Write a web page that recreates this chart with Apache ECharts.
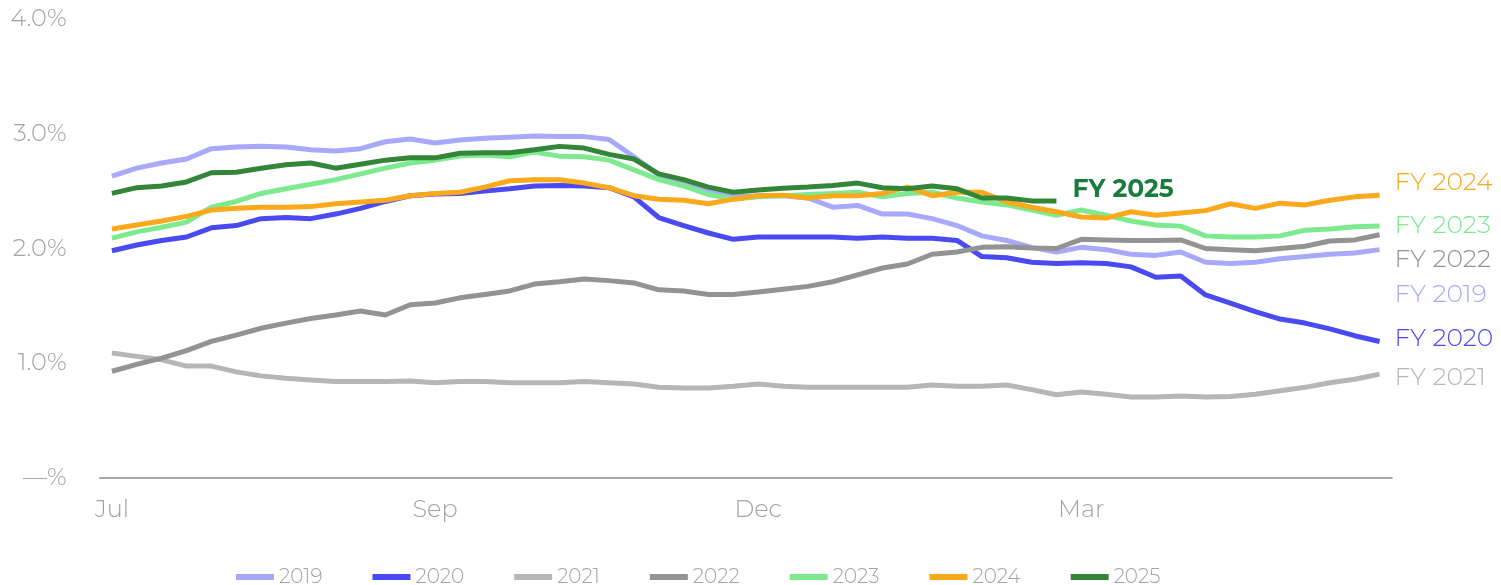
<!DOCTYPE html>
<html>
<head>
<meta charset="utf-8">
<script src="https://cdn.jsdelivr.net/npm/echarts@6/dist/echarts.min.js"></script>
<style>
  html, body { margin: 0; padding: 0; background: #fff; }
  #chart { width: 1501px; height: 585px; }
</style>
</head>
<body>
<div id="chart"></div>
<script>
// week index -> month tick label (52 weekly points, Jul .. Jun)
const tickLabels = { 0: 'Jul', 13: 'Sep', 26: 'Dec', 39: 'Mar' };
const weeks = Array.from({ length: 52 }, (_, i) => tickLabels[i] || ('W' + (i + 1)));

const years = ['2019', '2020', '2021', '2022', '2023', '2024', '2025'];

const fy2019 = [2.63, 2.70, 2.745, 2.78, 2.87, 2.885, 2.89, 2.885, 2.86, 2.85, 2.87, 2.93, 2.955, 2.92, 2.945, 2.96,
  2.97, 2.98, 2.975, 2.975, 2.95, 2.80, 2.64, 2.56, 2.50, 2.45, 2.46, 2.46, 2.44, 2.36, 2.375, 2.30, 2.30, 2.26,
  2.20, 2.11, 2.07, 2.01, 1.97, 2.01, 1.99, 1.95, 1.94, 1.97, 1.88, 1.87, 1.88, 1.91, 1.93, 1.95, 1.96, 1.99];
const fy2020 = [1.98, 2.03, 2.07, 2.10, 2.18, 2.20, 2.26, 2.27, 2.26, 2.30, 2.35, 2.41, 2.46, 2.475, 2.48, 2.50,
  2.52, 2.545, 2.55, 2.545, 2.53, 2.45, 2.27, 2.20, 2.135, 2.08, 2.10, 2.10, 2.10, 2.10, 2.09, 2.10, 2.09, 2.09,
  2.07, 1.93, 1.92, 1.88, 1.87, 1.875, 1.87, 1.84, 1.75, 1.76, 1.595, 1.525, 1.45, 1.385, 1.35, 1.30, 1.24, 1.19];
const fy2021 = [1.09, 1.06, 1.03, 0.975, 0.975, 0.925, 0.89, 0.87, 0.855, 0.84, 0.84, 0.84, 0.845, 0.83, 0.84, 0.84,
  0.83, 0.83, 0.83, 0.84, 0.83, 0.82, 0.79, 0.785, 0.785, 0.80, 0.82, 0.80, 0.79, 0.79, 0.79, 0.79, 0.79, 0.81,
  0.80, 0.80, 0.81, 0.77, 0.725, 0.75, 0.73, 0.705, 0.705, 0.715, 0.705, 0.71, 0.73, 0.76, 0.79, 0.83, 0.86, 0.905];
const fy2022 = [0.93, 0.99, 1.045, 1.11, 1.19, 1.245, 1.305, 1.35, 1.39, 1.42, 1.455, 1.42, 1.51, 1.525, 1.57, 1.60,
  1.63, 1.69, 1.71, 1.735, 1.72, 1.70, 1.64, 1.63, 1.60, 1.60, 1.62, 1.645, 1.67, 1.71, 1.77, 1.83, 1.865, 1.95,
  1.97, 2.01, 2.015, 2.005, 2.00, 2.08, 2.075, 2.07, 2.07, 2.075, 2.00, 1.99, 1.98, 2.00, 2.02, 2.065, 2.075, 2.12];
const fy2023 = [2.09, 2.145, 2.185, 2.23, 2.36, 2.41, 2.48, 2.52, 2.56, 2.60, 2.65, 2.70, 2.745, 2.77, 2.805, 2.815,
  2.80, 2.84, 2.805, 2.80, 2.77, 2.685, 2.60, 2.545, 2.47, 2.43, 2.45, 2.46, 2.47, 2.48, 2.49, 2.45, 2.48, 2.49,
  2.44, 2.405, 2.38, 2.335, 2.29, 2.335, 2.29, 2.24, 2.205, 2.195, 2.11, 2.10, 2.10, 2.11, 2.16, 2.17, 2.19, 2.195];
const fy2024 = [2.17, 2.205, 2.24, 2.28, 2.335, 2.35, 2.36, 2.36, 2.365, 2.39, 2.405, 2.42, 2.46, 2.48, 2.49, 2.535,
  2.59, 2.60, 2.60, 2.57, 2.53, 2.46, 2.43, 2.42, 2.39, 2.43, 2.46, 2.465, 2.44, 2.46, 2.46, 2.48, 2.535, 2.46,
  2.49, 2.49, 2.405, 2.36, 2.32, 2.275, 2.265, 2.32, 2.29, 2.31, 2.33, 2.39, 2.35, 2.395, 2.38, 2.42, 2.45, 2.465];
const fy2025 = [2.48, 2.53, 2.545, 2.58, 2.66, 2.665, 2.70, 2.73, 2.745, 2.70, 2.735, 2.77, 2.79, 2.79, 2.83, 2.835,
  2.835, 2.86, 2.89, 2.875, 2.82, 2.78, 2.65, 2.60, 2.535, 2.49, 2.51, 2.525, 2.535, 2.55, 2.57, 2.53, 2.52, 2.545,
  2.52, 2.44, 2.44, 2.415, 2.415];

const seriesData = [fy2019, fy2020, fy2021, fy2022, fy2023, fy2024, fy2025];
const COLORS = ['#a9a9fb', '#4a4af2', '#b6b6b6', '#939393', '#7dea8f', '#f9a91b', '#338637'];
// vertical nudge of the right-hand "FY" labels so they don't collide
const LABEL_OFFSETS = [[0, 45], [0, -3], [0, 3], [0, 25], [0, 0], [0, -13], [0, -11]];

const FONT = 'Montserrat, "Open Sans", Lato, sans-serif';
const TEXT_GRAY = '#a3a3a3';

const chart = echarts.init(document.getElementById('chart'), null, { renderer: 'canvas' });

chart.setOption({
  backgroundColor: '#fff',
  animation: false,
  grid: { left: 99.5, right: 109, top: 19, bottom: 107 },
  legend: {
    data: years,
    left: 231, top: 562,
    icon: 'rect', itemWidth: 38, itemHeight: 6, itemGap: 50,
    textStyle: { color: TEXT_GRAY, fontSize: 20, fontFamily: FONT, fontWeight: 300, padding: [0, 0, 0, 0] },
  },
  xAxis: {
    type: 'category', data: weeks, boundaryGap: true,
    axisLine: { lineStyle: { color: '#8c8c8c', width: 1.5 } },
    axisTick: { show: false },
    axisLabel: {
      interval: 12, margin: 20,
      color: TEXT_GRAY, fontSize: 24, fontFamily: FONT, fontWeight: 300,
      formatter: (v) => (v.startsWith('W') ? '' : v),
    },
    splitLine: { show: false },
  },
  yAxis: {
    type: 'value', min: 0, max: 4, interval: 1,
    axisLine: { show: false },
    axisTick: { show: false },
    splitLine: { show: false },
    axisLabel: {
      margin: 33, color: TEXT_GRAY, fontSize: 24, fontFamily: FONT, fontWeight: 300,
      formatter: (v) => (v === 0 ? '—%' : v.toFixed(1) + '%'),
    },
  },
  series: years.map((y, i) => ({
    name: y,
    type: 'line',
    data: seriesData[i],
    color: COLORS[i],
    symbol: 'none',
    lineStyle: { color: COLORS[i], width: 5, join: 'round' },
    endLabel: {
      show: true,
      formatter: 'FY ' + y,
      distance: i === 6 ? 16 : 15,
      offset: LABEL_OFFSETS[i],
      color: i === 6 ? '#187c3e' : COLORS[i],
      fontSize: 25,
      fontFamily: FONT,
      fontWeight: i === 6 ? 'bold' : 300,
    },
    z: 2 + i,
  })),
});
</script>
</body>
</html>
